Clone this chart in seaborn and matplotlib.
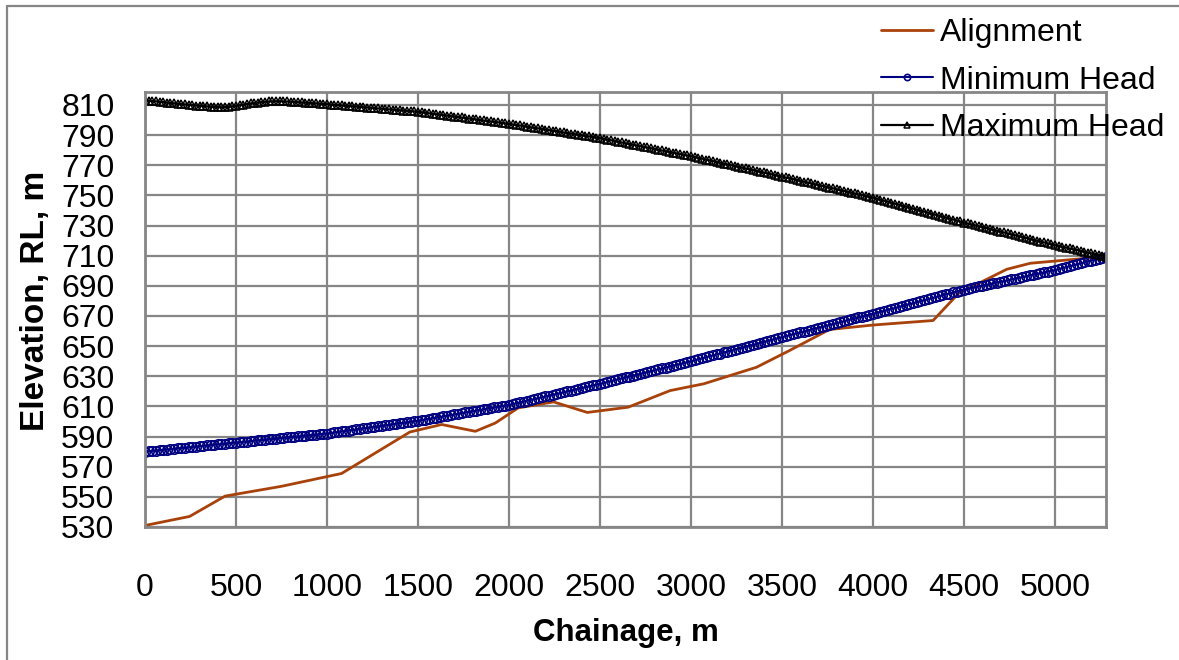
import numpy as np
import pandas as pd
import matplotlib
matplotlib.use("Agg")
import matplotlib.pyplot as plt
import seaborn as sns
from matplotlib.lines import Line2D

# Pipeline stations every 20 m along the route
chainage = np.arange(0, 5281, 20)

min_head = [
    580.0, 580.2, 580.5, 580.7, 581.0, 581.2, 581.4, 581.7, 581.9, 582.2, 582.4, 582.6, 582.9,
    583.1, 583.4, 583.6, 583.8, 584.1, 584.3, 584.6, 584.8, 585.0, 585.3, 585.5, 585.8, 586.0,
    586.2, 586.5, 586.7, 587.0, 587.2, 587.4, 587.7, 587.9, 588.2, 588.4, 588.6, 588.9, 589.1,
    589.4, 589.6, 589.8, 590.1, 590.3, 590.6, 590.8, 591.0, 591.3, 591.5, 591.8, 592.0,
    592.3, 592.7, 593.0, 593.4, 593.7, 594.0, 594.4, 594.7, 595.1, 595.4, 595.7, 596.1, 596.4,
    596.8, 597.1, 597.4, 597.8, 598.1, 598.5, 598.8, 599.1, 599.5, 599.8, 600.2, 600.5,
    600.9, 601.3, 601.8, 602.2, 602.6, 603.0, 603.4, 603.9, 604.3, 604.7, 605.1, 605.5, 606.0,
    606.4, 606.8, 607.2, 607.6, 608.1, 608.5, 608.9, 609.3, 609.7, 610.2, 610.6, 611.0,
    611.6, 612.1, 612.7, 613.2, 613.8, 614.4, 614.9, 615.5, 616.0, 616.6, 617.2, 617.7, 618.3,
    618.8, 619.4, 620.0, 620.5, 621.1, 621.6, 622.2, 622.8, 623.3, 623.9, 624.4, 625.0,
    625.6, 626.2, 626.8, 627.4, 628.0, 628.6, 629.2, 629.8, 630.4, 631.0, 631.6, 632.2, 632.8,
    633.4, 634.0, 634.6, 635.2, 635.8, 636.4, 637.0, 637.6, 638.2, 638.8, 639.4, 640.0,
    640.6, 641.3, 641.9, 642.6, 643.2, 643.8, 644.5, 645.1, 645.8, 646.4, 647.0, 647.7, 648.3,
    649.0, 649.6, 650.2, 650.9, 651.5, 652.2, 652.8, 653.4, 654.1, 654.7, 655.4, 656.0,
    656.6, 657.2, 657.9, 658.5, 659.1, 659.7, 660.3, 661.0, 661.6, 662.2, 662.8, 663.4, 664.1,
    664.7, 665.3, 665.9, 666.5, 667.2, 667.8, 668.4, 669.0, 669.6, 670.3, 670.9, 671.5,
    672.1, 672.8, 673.4, 674.1, 674.7, 675.3, 676.0, 676.6, 677.3, 677.9, 678.5, 679.2, 679.8,
    680.5, 681.1, 681.7, 682.4, 683.0, 683.7, 684.3, 684.9, 685.6, 686.2, 686.9, 687.5,
    688.0, 688.5, 689.1, 689.6, 690.1, 690.6, 691.1, 691.7, 692.2, 692.7, 693.2, 693.7, 694.3,
    694.8, 695.3, 695.8, 696.3, 696.9, 697.4, 697.9, 698.4, 698.9, 699.5, 700.0, 700.5,
    701.1, 701.8, 702.4, 703.0, 703.6, 704.3, 704.9, 705.5, 706.2, 706.8, 707.4, 708.1, 708.7,
    709.4,
]

max_head = [
    813.0, 812.8, 812.6, 812.4, 812.1, 811.9, 811.6, 811.4, 811.1, 810.9, 810.6, 810.4, 810.1,
    809.9, 809.6, 809.4, 809.2, 809.0, 808.8, 808.7, 808.6, 808.5,
    808.6, 808.8, 809.1, 809.4, 809.8, 810.2, 810.6, 811.0, 811.3, 811.6, 811.9, 812.1, 812.3,
    812.4, 812.5,
    812.5, 812.4, 812.3, 812.2, 812.0, 811.9, 811.7, 811.6, 811.4, 811.2, 811.1, 810.9, 810.7,
    810.5,
    810.3, 810.1, 809.9, 809.7, 809.5, 809.3, 809.1, 808.9, 808.7, 808.5, 808.3, 808.1, 807.9,
    807.7, 807.5, 807.3, 807.1, 806.9, 806.7, 806.5, 806.3, 806.1, 805.9, 805.7, 805.5,
    805.2, 804.9, 804.5, 804.2, 803.9, 803.6, 803.3, 802.9, 802.6, 802.3, 802.0, 801.7, 801.3,
    801.0, 800.7, 800.4, 800.1, 799.7, 799.4, 799.1, 798.8, 798.5, 798.1, 797.8, 797.5,
    797.1, 796.7, 796.4, 796.0, 795.6, 795.2, 794.8, 794.5, 794.1, 793.7, 793.3, 792.9, 792.6,
    792.2, 791.8, 791.4, 791.0, 790.7, 790.3, 789.9, 789.5, 789.1, 788.8, 788.4, 788.0,
    787.5, 787.0, 786.6, 786.1, 785.6, 785.1, 784.6, 784.2, 783.7, 783.2, 782.7, 782.2, 781.8,
    781.3, 780.8, 780.3, 779.8, 779.4, 778.9, 778.4, 777.9, 777.4, 777.0, 776.5, 776.0,
    775.5, 774.9, 774.4, 773.8, 773.3, 772.8, 772.2, 771.7, 771.1, 770.6, 770.1, 769.5, 769.0,
    768.4, 767.9, 767.4, 766.8, 766.3, 765.7, 765.2, 764.7, 764.1, 763.6, 763.0, 762.5,
    761.9, 761.4, 760.8, 760.3, 759.7, 759.1, 758.6, 758.0, 757.5, 756.9, 756.3, 755.8, 755.2,
    754.7, 754.1, 753.5, 753.0, 752.4, 751.9, 751.3, 750.7, 750.2, 749.6, 749.1, 748.5,
    747.8, 747.2, 746.5, 745.9, 745.2, 744.5, 743.9, 743.2, 742.6, 741.9, 741.2, 740.6, 739.9,
    739.3, 738.6, 737.9, 737.3, 736.6, 736.0, 735.3, 734.6, 734.0, 733.3, 732.7, 732.0,
    731.4, 730.8, 730.2, 729.6, 729.0, 728.4, 727.8, 727.2, 726.6, 726.0, 725.4, 724.8, 724.2,
    723.6, 723.0, 722.4, 721.8, 721.2, 720.6, 720.0, 719.4, 718.8, 718.2, 717.6, 717.0,
    716.5, 715.9, 715.4, 714.8, 714.3, 713.8, 713.2, 712.7, 712.1, 711.6, 711.1, 710.5, 710.0,
    709.4,
]

# Ground alignment survey points
align_ch = [0, 245, 440, 750, 1080, 1455, 1630, 1815, 1925, 2050, 2245, 2430, 2655,
            2885, 3070, 3360, 3540, 3760, 4000, 4330, 4470, 4735, 4865, 5280]
align_rl = [531, 537, 550.5, 557, 565.5, 593, 598, 593.5, 599, 609, 613, 606, 609.5,
            620.5, 625, 636, 647, 661, 664, 667, 685, 701, 705, 709.4]

x_ticks = list(range(0, 5001, 500))
y_ticks = list(range(530, 811, 20))

align_df = pd.DataFrame({"Chainage": align_ch, "RL": align_rl})
head_df = pd.DataFrame({"Chainage": chainage, "Min": min_head, "Max": max_head})

sns.set_style("white")
plt.rcParams["font.family"] = ["Liberation Sans", "DejaVu Sans"]
plt.rcParams["text.color"] = "black"
plt.rcParams["axes.labelcolor"] = "black"

GRID = "#868686"
W, H = 1179, 660
fig = plt.figure(figsize=(W / 100, H / 100), dpi=100)
left, right, top, bottom = 145, 1106, 92, 527
ax = fig.add_axes([left / W, 1 - bottom / H, (right - left) / W, (bottom - top) / H])

sns.lineplot(data=align_df, x="Chainage", y="RL", ax=ax, sort=False,
             color="#A8420A", linewidth=2.0, label="Alignment")
sns.lineplot(data=head_df, x="Chainage", y="Min", ax=ax, sort=False,
             color="#000080", linewidth=1.5, marker="o", markersize=6.8,
             markerfacecolor="none", markeredgecolor="#000080", markeredgewidth=1.2,
             label="Minimum Head")
sns.lineplot(data=head_df, x="Chainage", y="Max", ax=ax, sort=False,
             color="black", linewidth=1.6, marker="^", markersize=5.5,
             markerfacecolor="none", markeredgecolor="black", markeredgewidth=1.1,
             label="Maximum Head")

ax.set_xlim(0, 5280)
ax.set_ylim(530, 818.6)
ax.set_xticks(x_ticks)
ax.set_yticks(y_ticks)
ax.grid(True, color=GRID, linewidth=1.6)
ax.set_axisbelow(True)
for sp in ax.spines.values():
    sp.set_visible(True)
    sp.set_color(GRID)
    sp.set_linewidth(2.0)

ax.tick_params(axis="x", direction="out", length=9, width=1.6, color=GRID,
               labelsize=23, pad=24, labelcolor="black")
ax.tick_params(axis="y", direction="out", length=8, width=1.6, color=GRID,
               labelsize=23, pad=14, labelcolor="black")

ax.set_xlabel("Chainage, m", fontsize=22.5, fontweight="bold", color="black")
ax.set_ylabel("Elevation, RL, m", fontsize=24, fontweight="bold", color="black")
ax.xaxis.set_label_coords(0.5, -0.21)
ax.yaxis.set_label_coords(-0.098, 0.52)

leg = ax.legend(loc="upper left", bbox_to_anchor=(881 / W, 1 - 18 / H),
                bbox_transform=fig.transFigure, frameon=False, fontsize=23,
                handlelength=1.63, handletextpad=0.22, labelspacing=0.55,
                borderpad=0, borderaxespad=0)
for t in leg.get_texts():
    t.set_color("black")
for h in leg.legend_handles:
    h.set_markersize(4.5)

# Chart-area frame along the top and left edges
fig.add_artist(Line2D([7.5 / W, 7.5 / W], [0, 1 - 5.5 / H], transform=fig.transFigure,
                      color=GRID, linewidth=1.6))
fig.add_artist(Line2D([7.5 / W, 1], [1 - 5.5 / H, 1 - 5.5 / H], transform=fig.transFigure,
                      color=GRID, linewidth=1.6))

fig.savefig("out.png", dpi=100)
